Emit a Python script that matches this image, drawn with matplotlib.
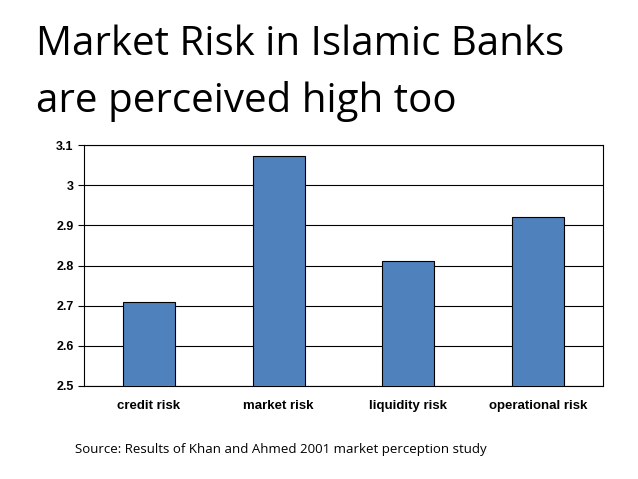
import matplotlib
matplotlib.use("Agg")
import matplotlib.pyplot as plt

categories = ["credit risk", "market risk", "liquidity risk", "operational risk"]
values = [2.71, 3.073, 2.81, 2.92]
yticks = [2.5, 2.6, 2.7, 2.8, 2.9, 3.0, 3.1]
ytick_labels = ["2.5", "2.6", "2.7", "2.8", "2.9", "3", "3.1"]

fig = plt.figure(figsize=(6.38, 4.79), dpi=100)
ax = fig.add_axes([84/638, 1-386/479, (603-84)/638, (386-145)/479])
x = range(len(categories))
ax.bar(x, values, width=0.4, bottom=0, color="#4F81BD", edgecolor="black", linewidth=0.8, zorder=3)
ax.set_ylim(2.5, 3.1)
ax.set_xlim(-0.5, 3.5)
ax.set_yticks(yticks)
ax.set_yticklabels(ytick_labels, fontsize=9, fontweight="bold", family="Liberation Sans")
ax.set_xticks(list(x))
ax.set_xticklabels(categories, fontsize=9.5, fontweight="bold", family="Liberation Sans")
ax.grid(axis="y", color="black", linewidth=0.8, zorder=0)
for s in ax.spines.values():
    s.set_linewidth(0.8)
ax.tick_params(axis="x", length=0, pad=10)
ax.tick_params(axis="y", length=4, direction="out")

fig.text(36/638, 1-45/479, "Market Risk in Islamic Banks", fontsize=29, family="Open Sans", va="center", ha="left")
fig.text(36/638, 1-102/479, "are perceived high too", fontsize=29, family="Open Sans", va="center", ha="left")
fig.text(75/638, 1-450/479, "Source: Results of Khan and Ahmed 2001 market perception study", fontsize=9.5, family="Open Sans", va="center", ha="left")

fig.savefig("out.png", dpi=100)
